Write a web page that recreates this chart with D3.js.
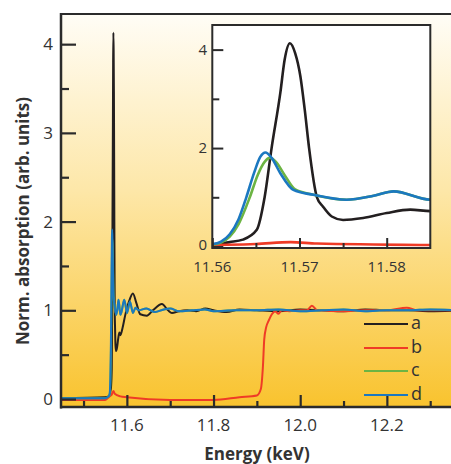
<!DOCTYPE html>
<html><head><meta charset="utf-8">
<script src="https://cdn.jsdelivr.net/npm/d3@7"></script>
<style>
html,body{margin:0;padding:0;background:#fff;}
svg{display:block;font-family:"Open Sans",sans-serif;}
</style></head>
<body><svg id="c" width="451" height="464"></svg>
<script>
// ---- data ----
const seriesNames = ["a","b","c","d"];
const seriesColors = ["#231f20","#ef3b26","#6cb443","#1b78c0"];

const energyA = [11.45,11.55,11.558,11.56,11.562,11.5635,11.5651,11.566,11.5668,11.5678,11.5683,11.5689,11.5695,11.5701,11.5706,11.5711,11.572,11.5727,11.5737,11.575,11.5773,11.58,11.5827,11.585,11.590,11.596,11.605,11.614,11.622,11.631,11.646,11.66,11.681,11.695,11.704,11.72,11.74,11.76,11.781,11.80,11.83,11.86,11.90,11.95,12.0,12.05,12.1,12.15,12.2,12.25,12.3,12.37];
const valuesA = [0.01,0.02,0.03,0.04,0.09,0.14,0.34,1.0,2.0,3.12,3.8,4.13,3.93,3.46,2.78,2.0,1.0,0.81,0.61,0.54,0.58,0.68,0.75,0.72,0.8,0.94,1.1,1.19,1.08,0.955,0.94,1.0,1.07,1.0,0.97,0.99,1.0,0.99,1.02,1.0,0.98,1.01,1.0,0.99,1.01,1.0,0.99,1.01,1.0,1.0,0.99,1.0];

const energyB = [11.45,11.55,11.56,11.565,11.569,11.572,11.585,11.6,11.7,11.8,11.86,11.9,11.909,11.914,11.917,11.9215,11.927,11.9346,11.942,11.95,11.957,11.975,12.0,12.015,12.027,12.04,12.1,12.15,12.2,12.246,12.27,12.37];
const valuesB = [-0.01,-0.01,0.03,0.05,0.09,0.06,0.03,0.02,-0.01,-0.01,0.02,0.04,0.11,0.37,0.67,0.81,0.88,0.955,0.99,0.96,1.0,0.99,1.0,1.0,1.05,1.0,0.99,1.0,1.0,1.03,1.0,1.0];

const energyC = [11.45,11.55,11.558,11.56,11.561,11.562,11.563,11.5643,11.5652,11.566,11.5666,11.5673,11.5683,11.5695,11.5716,11.5754,11.5785,11.5808,11.585,11.5875,11.594,11.6005,11.607,11.614,11.62,11.627,11.645,11.665,11.685,11.70,11.72,11.75,11.78,11.8,11.85,11.9,11.95,12.0,12.05,12.1,12.15,12.2,12.25,12.3,12.37];
const valuesC = [0.01,0.01,0.03,0.04,0.08,0.2,0.45,1.0,1.45,1.72,1.8,1.72,1.45,1.16,1.05,0.95,1.03,1.12,0.95,0.98,1.12,0.97,1.1,0.97,1.03,1.0,1.02,0.98,1.01,1.02,0.99,1.0,1.01,0.99,1.0,1.0,1.01,0.99,1.0,1.01,0.99,1.0,1.0,1.01,1.0];

const energyD = [11.45,11.55,11.558,11.56,11.561,11.562,11.563,11.5639,11.5648,11.5655,11.5661,11.5668,11.5678,11.5693,11.5716,11.5754,11.5785,11.5808,11.585,11.5875,11.594,11.6005,11.607,11.614,11.62,11.627,11.645,11.665,11.685,11.70,11.72,11.75,11.78,11.8,11.85,11.9,11.95,12.0,12.05,12.1,12.15,12.2,12.25,12.3,12.37];
const valuesD = [0.01,0.01,0.03,0.05,0.1,0.25,0.55,1.0,1.5,1.82,1.91,1.8,1.49,1.15,1.05,0.95,1.03,1.12,0.95,0.98,1.12,0.97,1.1,0.97,1.03,1.0,1.02,0.98,1.01,1.02,0.99,1.0,1.01,0.99,1.0,1.0,1.01,0.99,1.0,1.01,0.99,1.0,1.0,1.01,1.0];

const mainXTicks = [11.6,11.8,12.0,12.2];
const mainXMinor = [11.5,11.7,11.9,12.1,12.3];
const mainYTicks = [0,1,2,3,4];
const mainYMinor = [0.5,1.5,2.5,3.5];
const insetXTicks = [11.56,11.57,11.58];
const insetXMinor = [11.565,11.575];
const insetYTicks = [0,2,4];
const insetYMinor = [1,3];
const xLabel = "Energy (keV)";
const yLabel = "Norm. absorption (arb. units)";

// ---- build ----
const series = [
  {name:"a", e:energyA, v:valuesA, color:seriesColors[0]},
  {name:"b", e:energyB, v:valuesB, color:seriesColors[1]},
  {name:"c", e:energyC, v:valuesC, color:seriesColors[2]},
  {name:"d", e:energyD, v:valuesD, color:seriesColors[3]}
].map(s => ({...s, pts: s.e.map((e,i)=>[e,s.v[i]])}));

const svg = d3.select("#c");
const M = {l:61, r:451, t:14, b:407};
const x = d3.scaleLinear().domain([11.448,12.348]).range([M.l,M.r]);
const y = d3.scaleLinear().domain([-0.09,4.34]).range([M.b,M.t]);

const defs = svg.append("defs");
const grad = defs.append("linearGradient").attr("id","bg").attr("x1",0).attr("y1",0).attr("x2",0).attr("y2",1);
grad.append("stop").attr("offset","0%").attr("stop-color","#fffdf6");
grad.append("stop").attr("offset","45%").attr("stop-color","#fde7a8");
grad.append("stop").attr("offset","100%").attr("stop-color","#f9c32e");
defs.append("clipPath").attr("id","mclip").append("rect")
  .attr("x",M.l).attr("y",M.t).attr("width",M.r-M.l).attr("height",M.b-M.t);

svg.append("rect").attr("x",M.l).attr("y",M.t).attr("width",M.r-M.l).attr("height",M.b-M.t).attr("fill","url(#bg)");

const line = d3.line().x(d=>x(d[0])).y(d=>y(d[1])).curve(d3.curveMonotoneX);
const gm = svg.append("g").attr("clip-path","url(#mclip)");
series.forEach(s=>{
  gm.append("path").attr("d",line(s.pts)).attr("fill","none").attr("stroke",s.color).attr("stroke-width",2).attr("stroke-linejoin","round");
});

// main axes
const axCol = "#2b2b2b";
svg.append("g").attr("transform",`translate(${M.l},0)`)
  .call(d3.axisRight(y).tickValues(mainYTicks).tickSize(15).tickFormat(""));
svg.append("g").attr("transform",`translate(${M.l},0)`)
  .call(d3.axisRight(y).tickValues(mainYMinor).tickSize(8).tickFormat(""));
svg.append("g").attr("transform",`translate(0,${M.b})`)
  .call(d3.axisTop(x).tickValues(mainXTicks).tickSize(12).tickFormat(""));
svg.append("g").attr("transform",`translate(0,${M.b})`)
  .call(d3.axisTop(x).tickValues(mainXMinor).tickSize(6).tickFormat(""));
svg.selectAll(".domain").remove();
svg.selectAll(".tick line").attr("stroke",axCol).attr("stroke-width",2.2);

// frame lines
svg.append("line").attr("x1",M.l).attr("x2",M.l).attr("y1",M.t-1).attr("y2",M.b+1.5).attr("stroke",axCol).attr("stroke-width",2.5);
svg.append("line").attr("x1",M.l-1).attr("x2",451).attr("y1",M.t).attr("y2",M.t).attr("stroke",axCol).attr("stroke-width",2);
svg.append("line").attr("x1",M.l-1).attr("x2",451).attr("y1",M.b).attr("y2",M.b).attr("stroke",axCol).attr("stroke-width",2.5);

// main tick labels
svg.append("g").selectAll("text").data(mainYTicks).join("text")
  .attr("x",53).attr("y",d=>y(d)).attr("dy","0.35em").attr("text-anchor","end")
  .attr("font-size",17).attr("fill","#333").text(d=>d);
svg.append("g").selectAll("text").data(mainXTicks).join("text")
  .attr("x",d=>x(d)).attr("y",431).attr("text-anchor","middle")
  .attr("font-size",17).attr("fill","#333").text(d=>d3.format(".1f")(d));

svg.append("text").attr("x",257).attr("y",460).attr("text-anchor","middle")
  .attr("font-size",17).attr("font-weight","bold").attr("fill","#333").text(xLabel);
svg.append("text").attr("transform","translate(29,221) rotate(-90)").attr("text-anchor","middle")
  .attr("font-size",17).attr("font-weight","bold").attr("fill","#333").text(yLabel);

// legend
const lg = svg.append("g");
const legY = [324,348,371,395];
series.forEach((s,i)=>{
  lg.append("line").attr("x1",364).attr("x2",408).attr("y1",legY[i]).attr("y2",legY[i]).attr("stroke",s.color).attr("stroke-width",2);
  lg.append("text").attr("x",411).attr("y",legY[i]).attr("dy","0.3em").attr("font-size",18).attr("fill","#333").text(s.name);
});

// inset
const I = {l:212.3, r:430.3, t:25, b:248};
const xi = d3.scaleLinear().domain([11.56,11.585]).range([I.l,I.r]);
const yi = d3.scaleLinear().domain([-0.03,4.5]).range([I.b,I.t]);
defs.append("clipPath").attr("id","iclip").append("rect")
  .attr("x",I.l).attr("y",I.t).attr("width",I.r-I.l).attr("height",I.b-I.t);
svg.append("rect").attr("x",I.l).attr("y",I.t).attr("width",I.r-I.l).attr("height",I.b-I.t).attr("fill","#fff");
const linei = d3.line().x(d=>xi(d[0])).y(d=>yi(d[1])).curve(d3.curveMonotoneX);
const gi = svg.append("g").attr("clip-path","url(#iclip)");
series.forEach(s=>{
  gi.append("path").attr("d",linei(s.pts)).attr("fill","none").attr("stroke",s.color).attr("stroke-width",2.6).attr("stroke-linejoin","round");
});
const ia = svg.append("g");
ia.append("g").attr("transform",`translate(${I.l},0)`).call(d3.axisRight(yi).tickValues(insetYTicks).tickSize(11).tickFormat(""));
ia.append("g").attr("transform",`translate(${I.l},0)`).call(d3.axisRight(yi).tickValues(insetYMinor).tickSize(7).tickFormat(""));
ia.append("g").attr("transform",`translate(0,${I.b})`).call(d3.axisTop(xi).tickValues(insetXTicks).tickSize(10).tickFormat(""));
ia.append("g").attr("transform",`translate(0,${I.b})`).call(d3.axisTop(xi).tickValues(insetXMinor).tickSize(5).tickFormat(""));
ia.selectAll(".domain").remove();
ia.selectAll(".tick line").attr("stroke",axCol).attr("stroke-width",2);
svg.append("rect").attr("x",I.l).attr("y",I.t).attr("width",I.r-I.l).attr("height",I.b-I.t)
  .attr("fill","none").attr("stroke",axCol).attr("stroke-width",2);
svg.append("g").selectAll("text").data(insetYTicks).join("text")
  .attr("x",207).attr("y",d=>yi(d)).attr("dy",d=>d===0?"0.25em":"0.35em").attr("text-anchor","end")
  .attr("font-size",15).attr("fill","#333").text(d=>d);
svg.append("g").selectAll("text").data(insetXTicks).join("text")
  .attr("x",d=>xi(d)).attr("y",272).attr("text-anchor","middle")
  .attr("font-size",15).attr("fill","#333").text(d=>d3.format(".2f")(d));
</script></body></html>
